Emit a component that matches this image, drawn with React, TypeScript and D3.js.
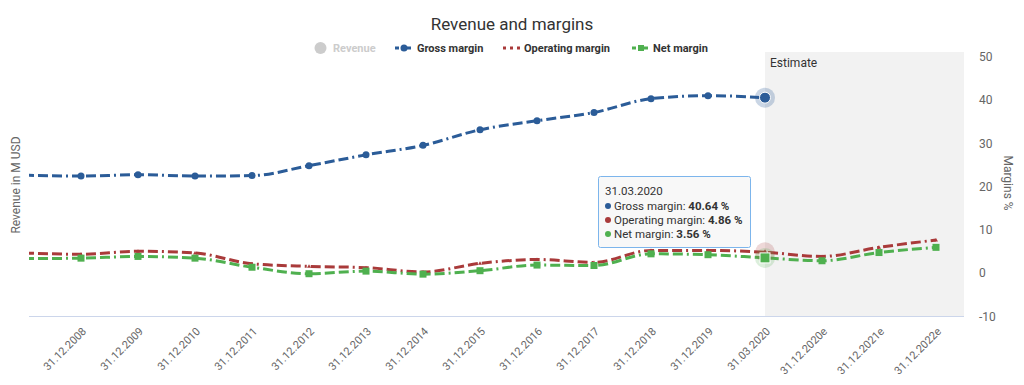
import React from 'react';
import * as d3 from 'd3';

// periods on the x axis (2007 sits just left of the plot and is clipped)
const periods = [
  '31.12.2007', '31.12.2008', '31.12.2009', '31.12.2010', '31.12.2011', '31.12.2012',
  '31.12.2013', '31.12.2014', '31.12.2015', '31.12.2016', '31.12.2017', '31.12.2018',
  '31.12.2019', '31.03.2020', '31.12.2020e', '31.12.2021e', '31.12.2022e',
];
const shownLabels = periods.slice(1);

const grossMargin = [22.7, 22.5, 22.8, 22.5, 22.6, 24.9, 27.4, 29.6, 33.2, 35.3, 37.2, 40.4, 41.1, 40.64, null, null, null];
const operatingMargin = [4.7, 4.4, 5.1, 4.7, 2.2, 1.6, 1.3, 0.3, 2.3, 3.2, 2.5, 5.3, 5.3, 4.86, 3.9, 6.0, 7.7];
const netMargin = [3.4, 3.5, 3.9, 3.5, 1.4, -0.1, 0.5, -0.2, 0.6, 1.9, 1.8, 4.5, 4.3, 3.56, 2.9, 4.8, 6.0];
const marginTicks = [50, 40, 30, 20, 10, 0, -10];

const BLUE = '#2b5c98';
const RED = '#a93a3a';
const GREEN = '#4fb04f';
const FONT = 'Roboto, "Noto Sans", sans-serif';

const plot = { left: 29, right: 964, top: 52, bottom: 316 };

export default function App() {
  const x = d3.scalePoint<string>().domain(periods).range([24, 936]);
  const y = d3.scaleLinear().domain([-10, 50]).range([316.5, 57.2]);

  const line = d3
    .line<number | null>()
    .defined((d) => d != null)
    .x((_, i) => x(periods[i]) as number)
    .y((d) => y(d as number))
    .curve(d3.curveMonotoneX);

  const hoverX = x('31.03.2020') as number;
  const estStart = hoverX;
  const dash = '10,4,10,4,10,4,2,4';

  return (
    <svg width={1024} height={385} style={{ position: 'absolute', left: 0, top: 0, fontFamily: FONT }}>
      <defs>
        <clipPath id="plotClip">
          <rect x={plot.left} y={plot.top - 10} width={plot.right - plot.left} height={plot.bottom - plot.top + 20} />
        </clipPath>
      </defs>
      <rect width={1024} height={385} fill="#fff" />

      <text x={512} y={30} textAnchor="middle" fontSize={17} fill="#333">Revenue and margins</text>

      {/* legend */}
      <g fontSize={11} fontWeight="bold">
        <circle cx={320.5} cy={48} r={6} fill="#ccc" />
        <text x={333} y={52} fill="#ccc">Revenue</text>
        <line x1={395} x2={413} y1={48} y2={48} stroke={BLUE} strokeWidth={3} strokeDasharray="4,2" />
        <circle cx={404} cy={48} r={3.5} fill={BLUE} />
        <text x={417} y={52} fill="#333">Gross margin</text>
        <line x1={503} x2={520} y1={48} y2={48} stroke={RED} strokeWidth={3} strokeDasharray="3,4" />
        <text x={524} y={52} fill="#333">Operating margin</text>
        <line x1={632} x2={650} y1={48} y2={48} stroke={GREEN} strokeWidth={3} strokeDasharray="4,2" />
        <rect x={638} y={45} width={6} height={6} fill={GREEN} />
        <text x={653} y={52} fill="#333">Net margin</text>
      </g>

      {/* estimate band */}
      <rect x={estStart} y={plot.top} width={plot.right - estStart} height={plot.bottom - plot.top} fill="#f2f2f2" />
      <text x={estStart + 5} y={67} fontSize={12} fill="#333">Estimate</text>

      {/* x axis */}
      <line x1={plot.left} x2={plot.right} y1={plot.bottom + 0.5} y2={plot.bottom + 0.5} stroke="#ccd6eb" />
      {shownLabels.map((p) => {
        const px = (x(p) as number) + 6;
        return (
          <text key={p} transform={`translate(${px},332) rotate(-45)`} textAnchor="end" fontSize={11} fill="#666">
            {p}
          </text>
        );
      })}

      {/* right axis */}
      {marginTicks.map((t) => (
        <text key={t} x={979} y={y(t) + 4} fontSize={12} fill="#666">{t}</text>
      ))}
      <text transform="translate(1004,183) rotate(90)" textAnchor="middle" fontSize={12} fill="#666">Margins %</text>
      <text transform="translate(20,185) rotate(-90)" textAnchor="middle" fontSize={12} fill="#666">Revenue in M USD</text>

      {/* series */}
      <g clipPath="url(#plotClip)">
        <path d={line(operatingMargin) ?? ''} fill="none" stroke={RED} strokeWidth={3} strokeDasharray={dash} />
        {operatingMargin.map((v, i) => {
          const cx = x(periods[i]) as number;
          const cy = y(v);
          return <path key={'o' + i} d={`M${cx},${cy - 2}L${cx + 2},${cy + 1.5}L${cx - 2},${cy + 1.5}Z`} fill={RED} />;
        })}
        <path d={line(netMargin) ?? ''} fill="none" stroke={GREEN} strokeWidth={3} strokeDasharray={dash} />
        {netMargin.map((v, i) => (
          <rect key={'n' + i} x={(x(periods[i]) as number) - 3.5} y={y(v) - 3.5} width={7} height={7} fill={GREEN} />
        ))}
        <path d={line(grossMargin) ?? ''} fill="none" stroke={BLUE} strokeWidth={3} strokeDasharray={dash} />
        {grossMargin.map((v, i) =>
          v == null ? null : <circle key={'g' + i} cx={x(periods[i]) as number} cy={y(v)} r={3.5} fill={BLUE} />
        )}
      </g>

      {/* hover state at 31.03.2020 */}
      <circle cx={hoverX} cy={y(4.86)} r={10} fill={RED} fillOpacity={0.2} />
      <path d={`M${hoverX},${y(4.86) - 3}L${hoverX + 3},${y(4.86) + 2}L${hoverX - 3},${y(4.86) + 2}Z`} fill={RED} />
      <rect x={hoverX - 10} y={y(3.56) - 10} width={20} height={20} rx={10} fill={GREEN} fillOpacity={0.2} />
      <rect x={hoverX - 5} y={y(3.56) - 5} width={10} height={10} fill={GREEN} stroke="#fff" />
      <circle cx={hoverX} cy={y(40.64)} r={10} fill={BLUE} fillOpacity={0.25} />
      <circle cx={hoverX} cy={y(40.64)} r={5.5} fill={BLUE} stroke="#fff" strokeWidth={1} />

      {/* tooltip */}
      <g fontSize={11.5} fill="#333">
        <rect x={598.5} y={176.5} width={152} height={71} fill="#f7f7f7" fillOpacity={0.92} stroke="#7cb5ec" rx={2} />
        <text x={605} y={195} fill="#333">31.03.2020</text>
        <circle cx={608} cy={206} r={3} fill={BLUE} />
        <text x={614} y={210}>Gross margin: <tspan fontWeight="bold">40.64 %</tspan></text>
        <circle cx={608} cy={220} r={3} fill={RED} />
        <text x={614} y={224}>Operating margin: <tspan fontWeight="bold">4.86 %</tspan></text>
        <circle cx={608} cy={234} r={3} fill={GREEN} />
        <text x={614} y={238}>Net margin: <tspan fontWeight="bold">3.56 %</tspan></text>
      </g>
    </svg>
  );
}
